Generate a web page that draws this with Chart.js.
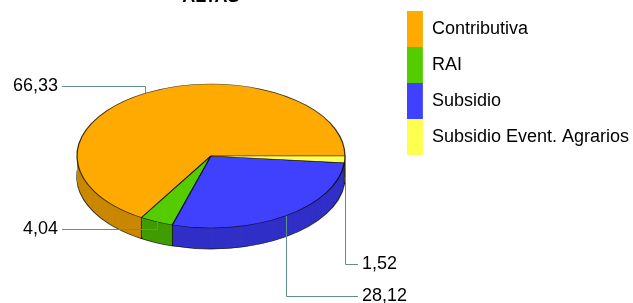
<!DOCTYPE html>
<html>
<head>
<meta charset="utf-8">
<script src="https://cdn.jsdelivr.net/npm/chart.js@4.4.1/dist/chart.umd.min.js"></script>
<style>
  html, body { margin: 0; padding: 0; background: #fff; }
  #chart_container { width: 633px; height: 303px; position: relative; }
</style>
</head>
<body>
<div id="chart_container"><canvas id="myChart"></canvas></div>
<script>
const chartTitle = 'ALTAS';
const categories = ['Contributiva', 'RAI', 'Subsidio', 'Subsidio Event. Agrarios'];
const values = [66.33, 4.04, 28.12, 1.52];
const topColors = ['#ffaa00', '#55cc00', '#4040ff', '#ffff50'];
const sideColors = ['#c98800', '#409c00', '#3030c8', '#c8c832'];

// where the value labels sit (left/right of the pie, and their y)
const labelLayout = [
  { side: 'left', y: 86 },
  { side: 'left', y: 229 },
  { side: 'right', y: 296 },
  { side: 'right', y: 264 }
];

const tilt = 72 / 134;
const depth = 21;
const font = '"Liberation Sans", Arial, sans-serif';

function tiltCtx(ctx, cx, cy) {
  ctx.translate(cx, cy);
  ctx.scale(1, -tilt);
  ctx.translate(-cx, -cy);
}

const pie3d = {
  id: 'pie3d',
  beforeDatasetsDraw(chart) {
    const ctx = chart.ctx;
    const arcs = chart.getDatasetMeta(0).data;
    const cx = arcs[0].x, cy = arcs[0].y, r = arcs[0].outerRadius;

    // side of the pie: stacked darker copies
    for (let d = depth; d >= 1; d--) {
      ctx.save();
      ctx.translate(0, d);
      tiltCtx(ctx, cx, cy);
      arcs.forEach((arc, i) => {
        const o = arc.options;
        arc.options = Object.assign({}, o, {
          backgroundColor: sideColors[i],
          borderWidth: d === depth ? 1.5 : 0
        });
        arc.draw(ctx);
        arc.options = o;
      });
      ctx.restore();
    }

    // vertical edges between slices on the front
    ctx.save();
    ctx.strokeStyle = 'rgba(0,0,0,0.7)';
    ctx.lineWidth = 1;
    arcs.forEach((arc) => {
      const a = arc.startAngle;
      if (Math.sin(a) <= 0.001) {
        const px = cx + r * Math.cos(a);
        const py = cy - tilt * r * Math.sin(a);
        ctx.beginPath();
        ctx.moveTo(px, py);
        ctx.lineTo(px, py + depth);
        ctx.stroke();
      }
    });
    ctx.restore();

    ctx.save();
    tiltCtx(ctx, cx, cy);
  },
  afterDatasetsDraw(chart) {
    const ctx = chart.ctx;
    ctx.restore();
    const arcs = chart.getDatasetMeta(0).data;
    const cx = arcs[0].x, cy = arcs[0].y, r = arcs[0].outerRadius;

    ctx.save();
    ctx.strokeStyle = '#5f8f86';
    ctx.lineWidth = 1;
    ctx.fillStyle = '#000';
    ctx.font = '18px ' + font;
    ctx.textBaseline = 'middle';
    arcs.forEach((arc, i) => {
      const m = (arc.startAngle + arc.endAngle) / 2;
      const ax = Math.round(cx + r * Math.cos(m)) + 0.5;
      const ay = cy - tilt * r * Math.sin(m);
      const L = labelLayout[i];
      const ly = Math.round(L.y) + 0.5;
      const ex = L.side === 'left' ? 62 : 358;
      ctx.beginPath();
      ctx.moveTo(ax, ay);
      ctx.lineTo(ax, ly);
      ctx.lineTo(ex, ly);
      ctx.stroke();
      const txt = values[i].toFixed(2).replace('.', ',');
      ctx.textAlign = L.side === 'left' ? 'right' : 'left';
      ctx.fillText(txt, L.side === 'left' ? ex - 4 : ex + 4, L.y);
    });

    // title, mostly outside the top edge
    ctx.font = 'bold 18px ' + font;
    ctx.textAlign = 'center';
    ctx.textBaseline = 'alphabetic';
    ctx.fillText(chartTitle, (chart.chartArea.left + chart.chartArea.right) / 2, 1.5);
    ctx.restore();
  }
};

const ctx = document.getElementById('myChart').getContext('2d');
const chart = new Chart(ctx, {
  type: 'pie',
  data: {
    labels: categories,
    datasets: [{
      data: values,
      backgroundColor: topColors,
      borderColor: 'rgba(0,0,0,0.75)',
      borderWidth: 1.3,
      radius: 134,
      clip: false
    }]
  },
  options: {
    responsive: true,
    maintainAspectRatio: false,
    animation: false,
    events: [],
    rotation: 90,
    layout: { padding: { left: 15, right: -6, top: 11, bottom: 2 } },
    plugins: {
      tooltip: { enabled: false },
      legend: {
        position: 'right',
        align: 'start',
        labels: {
          boxWidth: 16,
          boxHeight: 36,
          padding: 0,
          color: '#000',
          font: { size: 18, family: font },
          generateLabels(chart) {
            return Chart.overrides.pie.plugins.legend.labels.generateLabels(chart)
              .map(item => Object.assign(item, { lineWidth: 0 }));
          }
        }
      }
    }
  },
  plugins: [pie3d]
});
</script>
</body>
</html>
